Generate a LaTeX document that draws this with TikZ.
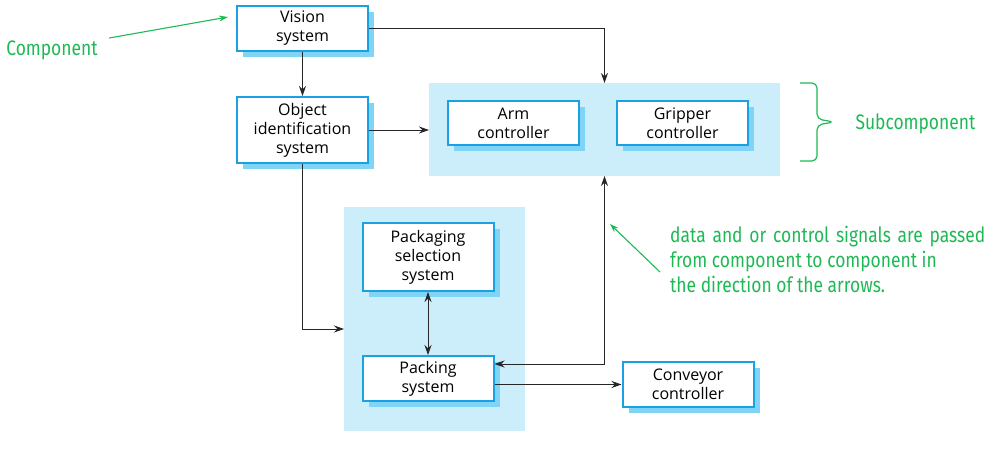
\documentclass[tikz,border=0pt]{standalone}
\usepackage{fontspec}
\setmainfont{Open Sans}
\newfontfamily\notefont[FakeStretch=0.83]{Fira Sans}
\usetikzlibrary{positioning,shadows,arrows.meta,backgrounds}
\definecolor{boxblue}{RGB}{27,161,226}
\definecolor{shadeblue}{RGB}{128,212,247}
\definecolor{groupblue}{RGB}{204,237,250}
\definecolor{notegreen}{RGB}{30,185,85}

\begin{document}
\begin{tikzpicture}[x=1pt,y=-1pt]
  \tikzstyle{box} = [rectangle, draw=boxblue, line width=2pt, fill=white, minimum width=131pt, align=center, font=\fontsize{16}{19}\selectfont, drop shadow={shadow xshift=6pt, shadow yshift=-6pt, fill=shadeblue, opacity=1}]
  \tikzstyle{grp} = [rectangle, fill=groupblue, inner sep=0pt, outer sep=0pt]
  \tikzstyle{conn} = [draw=black!85, line width=0.9pt, -{Stealth[length=10pt,width=7pt]}]
  \tikzstyle{biconn} = [conn, {Stealth[length=10pt,width=7pt]}-{Stealth[length=10pt,width=7pt]}]
  \tikzstyle{note} = [text=notegreen, font=\notefont\fontsize{21}{25}\selectfont]
  \tikzstyle{notearrow} = [draw=notegreen, line width=1.1pt, -{Stealth[length=9pt,width=6pt]}]
  \tikzstyle{bracket} = [draw=notegreen, line width=1.2pt, rounded corners=5pt]

  \useasboundingbox (0,0) rectangle (997,450);

  % components
  \node (vision) [box, minimum height=45pt] at (302.5,28.5) {Vision\\ system};
  \node (objid) [box, minimum height=66pt] at (302.5,130) {Object\\ identification\\ system};
  \node (arm) [box, minimum height=44pt] at (513.5,123) {Arm\\ controller};
  \node (gripper) [box, minimum height=44pt] at (682.5,123) {Gripper\\ controller};
  \node (pksel) [box, minimum height=68pt] at (428,257) {Packaging\\ selection\\ system};
  \node (packing) [box, minimum height=45pt] at (428,378.5) {Packing\\ system};
  \node (conveyor) [box, minimum height=45pt] at (688,384.5) {Conveyor\\ controller};

  \begin{pgfonlayer}{background}
    \node (ctrlgrp) [grp, minimum width=351pt, minimum height=93pt] at (604.5,129.5) {};
    \node (pkggrp) [grp, minimum width=181pt, minimum height=224pt] at (434.5,319) {};
  \end{pgfonlayer}

  % signals
  \draw [conn] (vision) -- (objid);
  \draw [conn] (vision.east) -| (ctrlgrp.north);
  \draw [conn] (objid.east) -- (objid.east -| ctrlgrp.west);
  \draw [conn] (objid.south) |- ([yshift=-10pt]pkggrp.west);
  \draw [biconn] (pksel) -- (packing);
  \draw [biconn] (ctrlgrp.south) |- ([yshift=14.5pt]packing.east);
  \draw [conn] (packing.east |- conveyor.west) -- (conveyor.west);

  % annotations
  \node (complbl) [note] at (52,50) {Component};
  \draw [notearrow] ([shift={(8pt,12pt)}]complbl.east) -- ([shift={(-8pt,-12pt)}]vision.north west);

  \node (sublbl) [note, anchor=west] at (852,124) {Subcomponent};
  \coordinate (bracetop) at ([xshift=20pt]ctrlgrp.north east);
  \coordinate (bracebot) at ([shift={(20pt,15pt)}]ctrlgrp.south east);
  \coordinate (bracetip) at (834,122);
  \draw [bracket] (bracetop) -| ([shift={(-17pt,3pt)}]bracetip) -- (bracetip) -- ([shift={(-17pt,-3pt)}]bracetip) |- (bracebot);

  \node (notelbl) [note, anchor=north west, align=left, inner sep=0pt] at (670,226)
    {\makebox[315pt][s]{data and or control signals are passed}\\ from component to component in\\ the direction of the arrows.};
  \draw [notearrow] ([shift={(-10pt,-46pt)}]notelbl.north west) -- ([shift={(-60pt,2pt)}]notelbl.north west);
\end{tikzpicture}
\end{document}
